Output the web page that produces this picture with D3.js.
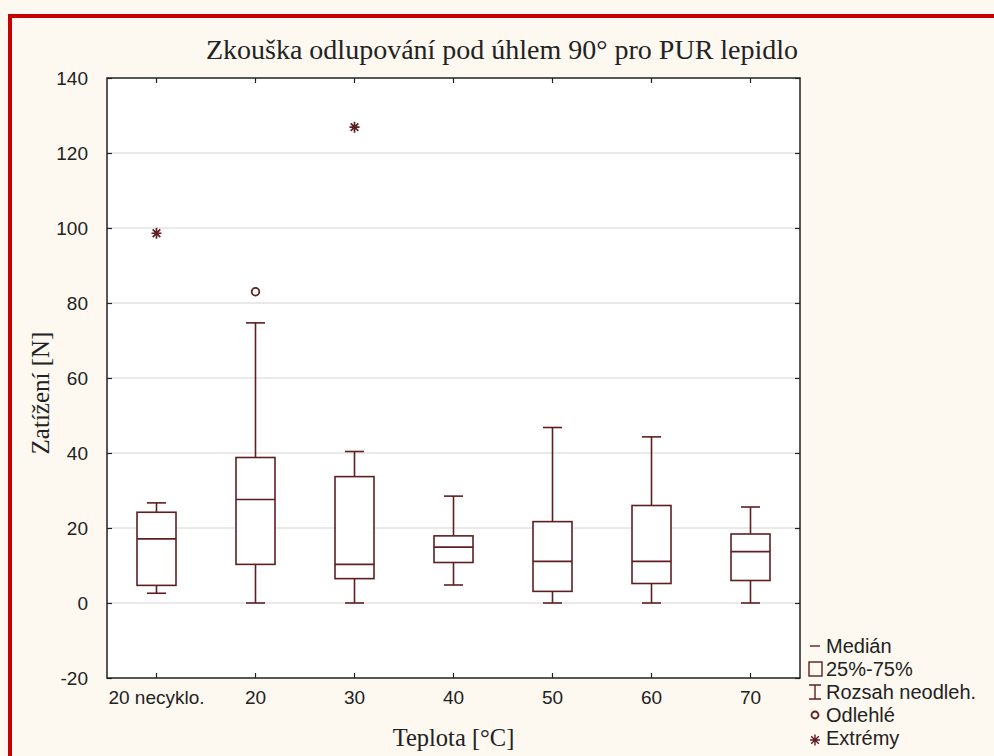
<!DOCTYPE html>
<html>
<head>
<meta charset="utf-8">
<script src="https://cdn.jsdelivr.net/npm/d3@7"></script>
<style>
  body { margin: 0; background: #fdf8f0; }
  svg { display: block; }
</style>
</head>
<body>
<div class="container"></div>
<script>
// box plot - zkouska odlupovani

var categories = ["20 necyklo.", "20", "30", "40", "50", "60", "70"];
var whiskerLow  = [2.6, 0, 0, 4.8, 0, 0, 0];
var q1          = [4.7, 10.3, 6.5, 10.8, 3.1, 5.2, 6.0];
var median      = [17.1, 27.6, 10.3, 14.9, 11.1, 11.1, 13.7];
var q3          = [24.2, 38.8, 33.7, 17.9, 21.7, 26.0, 18.4];
var whiskerHigh = [26.7, 74.7, 40.4, 28.5, 46.8, 44.3, 25.6];
var outliers = [{cat: "20", value: 83.0}];
var extremes = [{cat: "20 necyklo.", value: 98.6}, {cat: "30", value: 126.9}];
var yTicks = [-20, 0, 20, 40, 60, 80, 100, 120, 140];
var legendItems = ["Medián", "25%-75%", "Rozsah neodleh.", "Odlehlé", "Extrémy"];

var width = 994;
var height = 756;
var margin = {left: 107, right: 194, top: 78, bottom: 78};
var plotW = width - margin.left - margin.right;
var plotH = height - margin.top - margin.bottom;
var boxColor = "#5e1e22";
var sans = "'Liberation Sans', Arial, sans-serif";
var serif = "'Liberation Serif', 'Times New Roman', serif";

var svg = d3.select(".container")
    .append("svg")
    .attr("width", width)
    .attr("height", height);

// red frame
svg.append("rect")
    .attr("x", 10).attr("y", 16)
    .attr("width", width + 20).attr("height", height + 20)
    .attr("fill", "#fdf8f0")
    .attr("stroke", "#c40000")
    .attr("stroke-width", 4);

var x = d3.scaleBand().domain(categories).range([0, plotW]);
var y = d3.scaleLinear().domain([-20, 140]).range([plotH, 0]);

var g = svg.append("g")
    .attr("transform", "translate(" + margin.left + "," + margin.top + ")");

g.append("rect")
    .attr("width", plotW).attr("height", plotH)
    .attr("fill", "#ffffff");

// grid
g.selectAll("line.grid")
    .data(yTicks.slice(1, -1))
    .enter().append("line")
    .attr("class", "grid")
    .attr("x1", 0).attr("x2", plotW)
    .attr("y1", function(d) { return y(d); })
    .attr("y2", function(d) { return y(d); })
    .attr("stroke", "#d4d4d4")
    .attr("stroke-width", 1);

// axes - ticks pointing inward
var yAxisL = d3.axisLeft(y).tickValues(yTicks).tickSizeInner(-5).tickSizeOuter(0).tickPadding(19)
    .tickFormat(function(d) { return String(d); });
var yAxisR = d3.axisRight(y).tickValues(yTicks).tickSizeInner(-5).tickSizeOuter(0).tickFormat("");
var xAxisB = d3.axisBottom(x).tickSizeInner(-5).tickSizeOuter(0).tickPadding(13);
var xAxisT = d3.axisTop(x).tickSizeInner(-5).tickSizeOuter(0).tickFormat("");

function styleAxis(sel)
{
    sel.select(".domain").remove();
    sel.selectAll(".tick line").attr("stroke", "#222").attr("stroke-width", 1.2);
    sel.selectAll(".tick text")
        .attr("fill", "#222")
        .style("font-family", sans)
        .style("font-size", "19px");
}

g.append("g").call(yAxisL).call(styleAxis);
g.append("g").attr("transform", "translate(" + plotW + ",0)").call(yAxisR).call(styleAxis);
g.append("g").attr("transform", "translate(0," + plotH + ")").call(xAxisB).call(styleAxis);
g.append("g").call(xAxisT).call(styleAxis);

g.append("rect")
    .attr("width", plotW).attr("height", plotH)
    .attr("fill", "none")
    .attr("stroke", "#222")
    .attr("stroke-width", 1.5);

// boxes
var boxW = 39;
var capW = 19;
var stats = categories.map(function(c, i)
{
    return {cat: c, lo: whiskerLow[i], q1: q1[i], med: median[i], q3: q3[i], hi: whiskerHigh[i]};
});

var box = g.selectAll("g.box")
    .data(stats)
    .enter().append("g")
    .attr("class", "box")
    .attr("transform", function(d) { return "translate(" + (x(d.cat) + x.bandwidth() / 2) + ",0)"; })
    .attr("stroke", boxColor)
    .attr("stroke-width", 1.6)
    .attr("fill", "none");

box.append("line")
    .attr("x1", 0).attr("x2", 0)
    .attr("y1", function(d) { return y(d.q3); })
    .attr("y2", function(d) { return y(d.hi); });
box.append("line")
    .attr("x1", 0).attr("x2", 0)
    .attr("y1", function(d) { return y(d.q1); })
    .attr("y2", function(d) { return y(d.lo); });
box.append("line")
    .attr("x1", -capW / 2).attr("x2", capW / 2)
    .attr("y1", function(d) { return y(d.hi); })
    .attr("y2", function(d) { return y(d.hi); });
box.append("line")
    .attr("x1", -capW / 2).attr("x2", capW / 2)
    .attr("y1", function(d) { return y(d.lo); })
    .attr("y2", function(d) { return y(d.lo); });
box.append("rect")
    .attr("x", -boxW / 2).attr("width", boxW)
    .attr("y", function(d) { return y(d.q3); })
    .attr("height", function(d) { return y(d.q1) - y(d.q3); })
    .attr("fill", "#ffffff");
box.append("line")
    .attr("x1", -boxW / 2).attr("x2", boxW / 2)
    .attr("y1", function(d) { return y(d.med); })
    .attr("y2", function(d) { return y(d.med); });

// outliers
g.selectAll("circle.out")
    .data(outliers)
    .enter().append("circle")
    .attr("class", "out")
    .attr("cx", function(d) { return x(d.cat) + x.bandwidth() / 2; })
    .attr("cy", function(d) { return y(d.value); })
    .attr("r", 3.8)
    .attr("fill", "#fff")
    .attr("stroke", boxColor)
    .attr("stroke-width", 1.8);

function asterisk(sel)
{
    // 8-ray star
    sel.append("path").attr("d", "M-5,0H5M0,-5.5V5.5M-3.8,-3.8L3.8,3.8M-3.8,3.8L3.8,-3.8");
}

g.selectAll("g.ext")
    .data(extremes)
    .enter().append("g")
    .attr("class", "ext")
    .attr("transform", function(d) { return "translate(" + (x(d.cat) + x.bandwidth() / 2) + "," + y(d.value) + ")"; })
    .attr("stroke", boxColor)
    .attr("stroke-width", 1.7)
    .call(asterisk);

// titles
svg.append("text")
    .attr("x", 502).attr("y", 59)
    .attr("text-anchor", "middle")
    .style("font-family", serif)
    .style("font-size", "28px")
    .attr("fill", "#222")
    .text("Zkouška odlupování pod úhlem 90° pro PUR lepidlo");

svg.append("text")
    .attr("x", margin.left + plotW / 2).attr("y", 746)
    .attr("text-anchor", "middle")
    .style("font-family", serif)
    .style("font-size", "24.5px")
    .attr("fill", "#222")
    .text("Teplota [°C]");

svg.append("text")
    .attr("transform", "translate(49,393) rotate(-90)")
    .attr("text-anchor", "middle")
    .style("font-family", serif)
    .style("font-size", "25px")
    .attr("fill", "#222")
    .text("Zatížení [N]");

// legend
var leg = svg.append("g").attr("transform", "translate(808,646)");
var legRow = leg.selectAll("g.leg")
    .data(legendItems)
    .enter().append("g")
    .attr("class", "leg")
    .attr("transform", function(d, i) { return "translate(0," + (i * 23) + ")"; });

legRow.append("text")
    .attr("x", 18).attr("y", 7)
    .style("font-family", sans)
    .style("font-size", "20px")
    .attr("fill", "#222")
    .text(function(d) { return d; });

var sym = legRow.append("g")
    .attr("transform", "translate(7,0)")
    .attr("stroke", boxColor)
    .attr("stroke-width", 1.4)
    .attr("fill", "none");

sym.each(function(d, i)
{
    var s = d3.select(this);
    if (i == 0) s.append("line").attr("x1", -5).attr("x2", 5);
    if (i == 1) s.append("rect").attr("x", -6).attr("y", -7).attr("width", 13).attr("height", 14);
    if (i == 2)
    {
        s.append("path").attr("d", "M-6,-7H6M0,-7V7M-6,7H6");
    }
    if (i == 3) s.append("circle").attr("r", 3.5).attr("stroke-width", 1.8);
    if (i == 4) s.attr("transform", "translate(7,2)").call(asterisk);
});
</script>
</body>
</html>
